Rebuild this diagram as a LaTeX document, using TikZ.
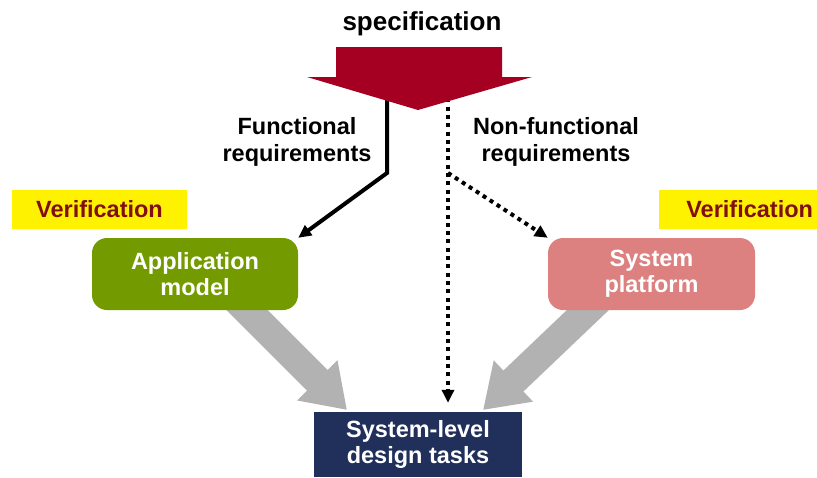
\documentclass[tikz,border=0pt]{standalone}
\usepackage{fontspec}
\setmainfont{Liberation Sans}
\usetikzlibrary{arrows.meta,backgrounds}

\definecolor{specred}{RGB}{165,0,33}
\definecolor{verifred}{RGB}{128,16,16}
\definecolor{appgreen}{RGB}{115,155,0}
\definecolor{platpink}{RGB}{220,128,128}
\definecolor{tasknavy}{RGB}{32,48,90}
\definecolor{fatgray}{RGB}{178,178,178}

\begin{document}
\begin{tikzpicture}[x=1pt,y=-1pt]
    \useasboundingbox (0,0) rectangle (817,477);

    \coordinate (fstart) at (387,90);
    \coordinate (fbend) at (387,173);
    \coordinate (nstart) at (448,90);
    \coordinate (nbend) at (448,173);
    \coordinate (lfoot) at (225,288);
    \coordinate (ltip) at (347,410);
    \coordinate (rfoot) at (611,288);
    \coordinate (rtip) at (483,410);

    \begin{scope}[every node/.style={font=\fontsize{23.5}{27}\selectfont\bfseries, align=center, inner sep=0}]
        \node (spec) at (422,24) {\fontsize{26}{30}\selectfont specification};
        \node (func) at (297,142) {Functional\\requirements};
        \node (nonfunc) at (556,142) {Non-functional\\requirements};
        \node [fill=yellow, text=verifred, minimum width=175pt, minimum height=39pt] (verl) at (99.5,209.5) {Verification};
        \node [fill=yellow, text=verifred, text width=150pt, align=right, inner xsep=4pt, minimum height=39pt] (verr) at (738,209.5) {Verification};
    \end{scope}

    \begin{scope}[every node/.style={font=\fontsize{23.5}{26}\selectfont\bfseries, text=white, align=center, minimum height=72pt}]
        \node [fill=appgreen, rounded corners=15pt, minimum width=206pt] (app) at (195,274) {Application\\model};
        \node [fill=platpink, rounded corners=15pt, minimum width=207pt] (plat) at (651.5,274) {System\\platform};
        \node [fill=tasknavy, minimum width=208pt, minimum height=65pt] (tasks) at (418,444.5) {System-level\\design tasks};
    \end{scope}

    \begin{scope}[on background layer, every path/.style={line width=29pt, fatgray, -{Triangle[length=42pt,width=54pt]}}]
        \draw (lfoot) -- (ltip);
        \draw (rfoot) -- (rtip);
    \end{scope}

    \begin{scope}[every path/.style={line width=4pt, black, -{Triangle[length=13pt,width=12pt]}}]
        \draw (fstart) -- (fbend) -- (app.north east);
        \draw [dash pattern=on 4pt off 4.3pt, shorten >=9pt] (nstart) -- (nstart |- tasks.north);
        \draw [dash pattern=on 4pt off 4.3pt] (nbend) -- (plat.north west);
    \end{scope}

    \fill [specred] (336,47) -- (502,47) -- (502,77) -- (532,77) -- (418,110) -- (307,77) -- (336,77) -- cycle;
\end{tikzpicture}
\end{document}
